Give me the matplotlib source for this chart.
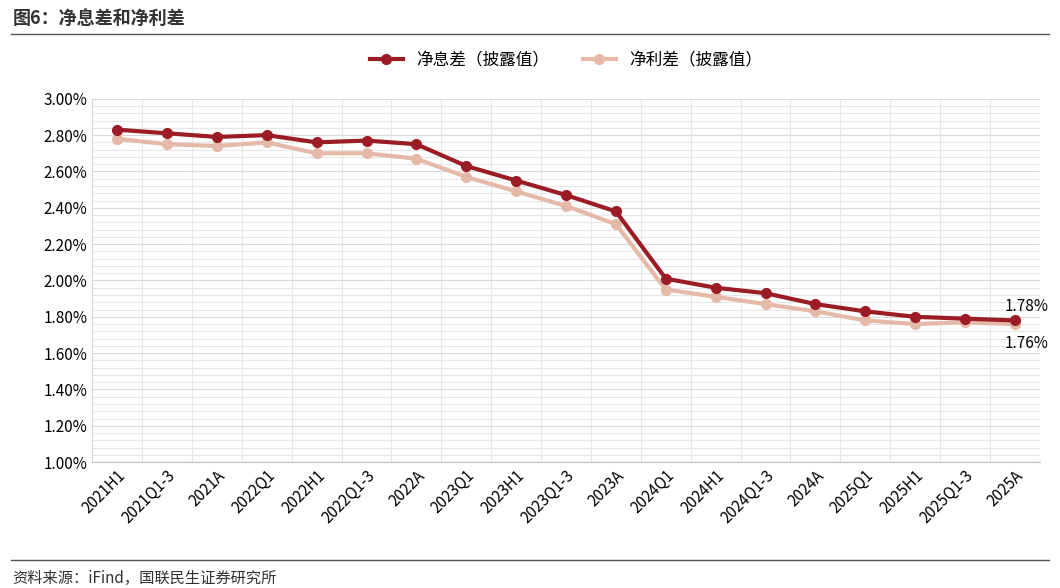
import matplotlib.pyplot as plt
from matplotlib.ticker import MultipleLocator, FuncFormatter

plt.rcParams['font.family'] = ['Noto Sans CJK SC', 'DejaVu Sans']

periods = ["2021H1", "2021Q1-3", "2021A", "2022Q1", "2022H1", "2022Q1-3", "2022A",
           "2023Q1", "2023H1", "2023Q1-3", "2023A", "2024Q1", "2024H1", "2024Q1-3",
           "2024A", "2025Q1", "2025H1", "2025Q1-3", "2025A"]
nim = [2.83, 2.81, 2.79, 2.80, 2.76, 2.77, 2.75, 2.63, 2.55, 2.47, 2.38, 2.01, 1.96,
       1.93, 1.87, 1.83, 1.80, 1.79, 1.78]
spread = [2.78, 2.75, 2.74, 2.76, 2.70, 2.70, 2.67, 2.57, 2.49, 2.41, 2.31, 1.95, 1.91,
          1.87, 1.83, 1.78, 1.76, 1.77, 1.76]

fig = plt.figure(figsize=(10.6, 5.88), dpi=100)
ax = fig.add_axes([0.087, 0.214, 0.894, 0.618])

x = range(len(periods))
ax.plot(x, nim, color='#9b1c25', lw=3, marker='o', ms=7, label='净息差（披露值）', zorder=4)
ax.plot(x, spread, color='#e5b9a8', lw=3, marker='o', ms=7, label='净利差（披露值）', zorder=3)

ax.set_ylim(1.0, 3.0)
ax.set_xlim(-0.5, len(periods) - 0.5)
ax.yaxis.set_major_locator(MultipleLocator(0.2))
ax.yaxis.set_minor_locator(MultipleLocator(0.04))
ax.yaxis.set_major_formatter(FuncFormatter(lambda v, p: f"{v:.2f}%"))
ax.set_xticks(list(x))
ax.set_xticklabels(periods, rotation=45, ha='right', rotation_mode='anchor', fontsize=11)
ax.set_xticks([i + 0.5 for i in range(-1, len(periods))], minor=True)
ax.tick_params(axis='y', labelsize=11, length=0, which='both')
ax.tick_params(axis='x', length=0, which='both')
ax.grid(which='minor', axis='both', color='#e6e6e6', lw=0.8)
ax.grid(which='major', axis='y', color='#d9d9d9', lw=0.8)
for s in ['top', 'right']:
    ax.spines[s].set_visible(False)
ax.spines['left'].set_color('#d9d9d9')
ax.spines['bottom'].set_color('#bfbfbf')

ax.text(17.8, nim[-1] + 0.03, f"{nim[-1]:.2f}%", fontsize=11, ha='left', va='bottom')
ax.text(17.8, spread[-1] - 0.06, f"{spread[-1]:.2f}%", fontsize=11, ha='left', va='top')

ax.legend(loc='lower center', bbox_to_anchor=(0.5, 1.04), ncol=2, frameon=False, fontsize=12)

fig.text(0.012, 0.985, "图6：净息差和净利差", fontsize=13, fontweight='bold', va='top', color='#333333')
fig.add_artist(plt.Line2D([0.01, 0.99], [0.942, 0.942], color='#555555', lw=1))
fig.add_artist(plt.Line2D([0.01, 0.99], [0.048, 0.048], color='#555555', lw=1))
fig.text(0.012, 0.008, "资料来源：iFind，国联民生证券研究所", fontsize=11, color='#333333')

fig.savefig('out.png', dpi=100)
